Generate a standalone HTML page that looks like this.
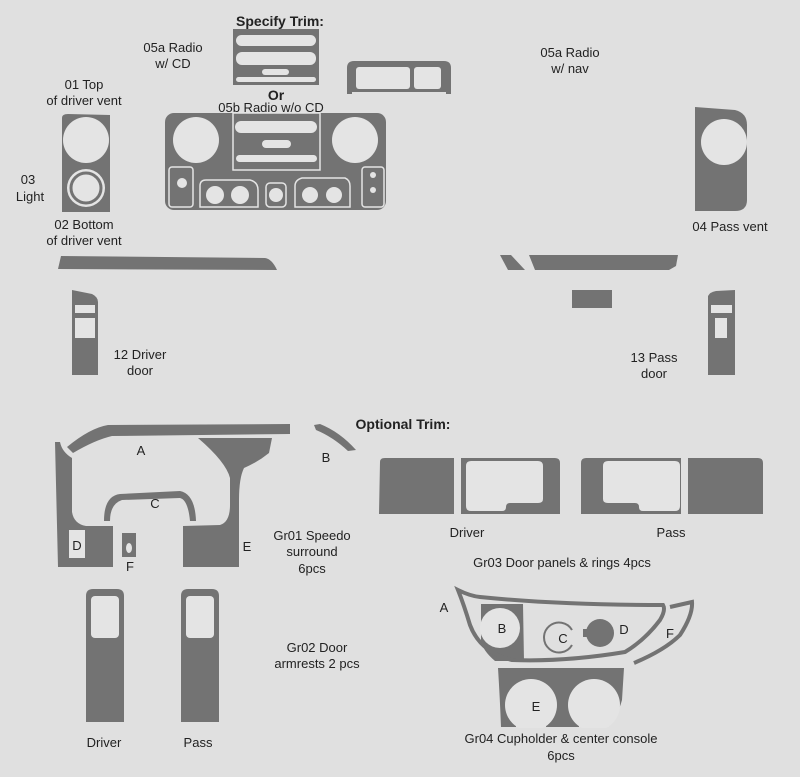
<!DOCTYPE html>
<html><head><meta charset="utf-8"><style>
html,body{margin:0;padding:0;background:#e0e0e0;}
svg{display:block;}
text{font-family:"Liberation Sans",Arial,sans-serif;font-size:13px;fill:#222;text-anchor:middle;}
.b{font-weight:bold;font-size:14px;}
</style></head><body>
<svg width="800" height="777" viewBox="0 0 800 777" xmlns="http://www.w3.org/2000/svg">
<rect width="800" height="777" fill="#e0e0e0"/>
<g fill="#737373">
<rect x="233" y="29" width="86" height="56"/>
<path d="M347,94 L347,68 Q347,61 354,61 L444,61 Q451,61 451,68 L451,94 L446,94 L446,70 L352,70 L352,94 Z"/>
<rect x="352" y="66" width="94" height="26"/>
<path d="M62,212 L62,118 Q62,114 68,114 L110,115 L110,212 Z"/>
<rect x="165" y="113" width="221" height="97" rx="9"/>
<path d="M695,211 L695,107 L735,110 Q747,113 747,125 L747,200 Q747,211 735,211 Z"/>
<path d="M61,256 L265,258 Q272,259 277,270 L58,269 Z"/>
<path d="M500,255 L511,255 L525,270 L508,270 Z"/>
<path d="M529,255 L678,255 L676,266 L669,270 L535,270 Z"/>
<rect x="572" y="290" width="40" height="18"/>
<path d="M72,375 L72,290 L92,294 Q98,297 98,302 L98,375 Z"/>
<path d="M708,375 L708,296 Q710,292 716,291 L735,290 L735,375 Z"/>
<path d="M67,447 Q90,428 108,425 L290,424 L290,434 L112,436 Q95,440 73,453 Z"/>
<path d="M314,425 L320,424 Q340,432 356,450 L348,451 Q333,437 316,430 Z"/>
<path d="M55,442 L60,442 Q62,452 72,458 L72,512 Q74,524 86,526 L113,526 L113,567 L58,567 Z"/>
<path d="M198,438 L272,438 L269,453 Q258,462 244,468 Q239,478 239,500 L239,567 L183,567 L183,526 L220,525 Q230,522 230,505 L230,478 Q226,462 198,438 Z"/>
<path d="M104,521 Q104,496 120,494 L180,491 Q195,494 196,521 L190,521 Q188,500 180,498 L122,500 Q110,504 110,521 Z"/>
<rect x="122" y="533" width="14" height="24"/>
<path d="M86,722 L86,596 Q86,589 93,589 L117,589 Q124,589 124,596 L124,722 Z"/>
<path d="M181,722 L181,596 Q181,589 188,589 L212,589 Q219,589 219,596 L219,722 Z"/>
<path d="M379,514 L380,462 Q380,458 385,458 L454,458 L454,514 Z"/>
<path d="M461,514 L461,458 L555,458 Q560,458 560,463 L560,514 Z"/>
<path d="M581,514 L581,463 Q581,458 586,458 L681,458 L681,514 Z"/>
<path d="M688,514 L688,458 L758,458 Q763,458 763,463 L763,514 Z"/>
<path d="M481,604 L523,604 L524,661 L495,661 Q482,650 481,640 Z"/>
<path d="M498,668 L624,668 L622,700 Q617,720 600,727 L501,727 Q500,700 498,668 Z"/>
<circle cx="600" cy="633" r="14"/>
<rect x="583" y="629" width="10" height="8"/>
</g>
<path d="M458,590 Q470,596 480,597 Q560,605 663,605 Q666,610 660,620 Q645,640 625,652 Q565,662 512,660 Q480,652 470,625 Q464,605 458,590 Z" fill="none" stroke="#737373" stroke-width="4"/>
<path d="M670,607 L692,602 Q693,615 680,635 Q665,650 634,663" fill="none" stroke="#737373" stroke-width="4"/>
<path d="M572,630 A15,15 0 1 0 572,645" fill="none" stroke="#737373" stroke-width="2"/>
<g fill="#e4e4e4">
<rect x="236" y="35" width="80" height="11" rx="5.5"/>
<rect x="236" y="52" width="80" height="13" rx="6"/>
<rect x="262" y="69" width="27" height="6" rx="3"/>
<rect x="236" y="77" width="80" height="5" rx="2.5"/>
<rect x="356" y="67" width="54" height="22" rx="3"/>
<rect x="414" y="67" width="27" height="22" rx="3"/>
<circle cx="86" cy="140" r="23"/>
<circle cx="86" cy="188" r="19"/>
<circle cx="196" cy="140" r="23"/>
<circle cx="355" cy="140" r="23"/>
<rect x="235" y="121" width="82" height="12" rx="6"/>
<rect x="262" y="140" width="29" height="8" rx="4"/>
<rect x="236" y="155" width="81" height="7" rx="3.5"/>
<circle cx="724" cy="142" r="23"/>
<rect x="75" y="305" width="20" height="8"/>
<rect x="75" y="318" width="20" height="20"/>
<rect x="711" y="305" width="21" height="8"/>
<rect x="715" y="318" width="12" height="20"/>
<rect x="69" y="530" width="16" height="28"/>
<ellipse cx="129" cy="548" rx="3" ry="5"/>
<rect x="91" y="596" width="28" height="42" rx="4"/>
<rect x="186" y="596" width="28" height="42" rx="4"/>
<path d="M466,466 Q466,461 471,461 L538,461 Q543,461 543,466 L543,499 Q543,503 538,503 L510,503 Q506,503 506,507 Q506,511 502,511 L471,511 Q466,511 466,506 Z"/>
<path d="M603,466 Q603,461 608,461 L675,461 Q680,461 680,466 L680,506 Q680,511 675,511 L643,511 Q639,511 639,507 Q639,503 635,503 L608,503 Q603,503 603,499 Z"/>
<circle cx="500" cy="628" r="20"/>
<circle cx="531" cy="705" r="26"/>
<circle cx="594" cy="705" r="26"/>
<rect x="516" y="718" width="30" height="9"/>
<rect x="579" y="718" width="30" height="9"/>
</g>
<rect x="490" y="728" width="150" height="6" fill="#e0e0e0"/>
<circle cx="86" cy="188" r="15" fill="none" stroke="#737373" stroke-width="3"/>
<g fill="none" stroke="#e4e4e4" stroke-width="1.5">
<rect x="233" y="113" width="87" height="57"/>
<rect x="169" y="167" width="24" height="40" rx="3"/>
<path d="M200,207 L200,186 Q200,180 206,180 L250,180 Q258,182 258,190 L258,207 Z"/>
<rect x="266" y="183" width="20" height="24" rx="4"/>
<path d="M295,207 L295,186 Q295,180 302,178 L345,178 Q350,180 350,186 L350,207 Z"/>
<rect x="362" y="167" width="22" height="40" rx="3"/>
</g>
<g fill="#e4e4e4">
<circle cx="182" cy="183" r="5"/>
<circle cx="215" cy="195" r="9"/>
<circle cx="240" cy="195" r="9"/>
<circle cx="276" cy="195" r="7"/>
<circle cx="310" cy="195" r="8"/>
<circle cx="334" cy="195" r="8"/>
<circle cx="373" cy="175" r="3"/>
<circle cx="373" cy="190" r="3"/>
</g>
<text x="280" y="26" class="b">Specify Trim:</text>
<text x="173" y="52">05a Radio</text>
<text x="173" y="68">w/ CD</text>
<text x="84" y="89">01 Top</text>
<text x="84" y="105">of driver vent</text>
<text x="276" y="100" class="b">Or</text>
<text x="271" y="112">05b Radio w/o CD</text>
<text x="28" y="184">03</text>
<text x="30" y="201">Light</text>
<text x="84" y="229">02 Bottom</text>
<text x="84" y="245">of driver vent</text>
<text x="570" y="57">05a Radio</text>
<text x="570" y="73">w/ nav</text>
<text x="730" y="231">04 Pass vent</text>
<text x="140" y="359">12 Driver</text>
<text x="140" y="375">door</text>
<text x="654" y="362">13 Pass</text>
<text x="654" y="378">door</text>
<text x="403" y="429" class="b">Optional Trim:</text>
<text x="141" y="455">A</text>
<text x="326" y="462">B</text>
<text x="155" y="508">C</text>
<text x="77" y="550">D</text>
<text x="247" y="551">E</text>
<text x="130" y="571">F</text>
<text x="312" y="540">Gr01 Speedo</text>
<text x="312" y="556">surround</text>
<text x="312" y="573">6pcs</text>
<text x="317" y="652">Gr02 Door</text>
<text x="317" y="668">armrests 2 pcs</text>
<text x="104" y="747">Driver</text>
<text x="198" y="747">Pass</text>
<text x="467" y="537">Driver</text>
<text x="671" y="537">Pass</text>
<text x="562" y="567">Gr03 Door panels &amp; rings 4pcs</text>
<text x="444" y="612">A</text>
<text x="502" y="633">B</text>
<text x="563" y="643">C</text>
<text x="624" y="634">D</text>
<text x="670" y="638">F</text>
<text x="536" y="711">E</text>
<text x="561" y="743">Gr04 Cupholder &amp; center console</text>
<text x="561" y="760">6pcs</text>
</svg>
</body></html>
